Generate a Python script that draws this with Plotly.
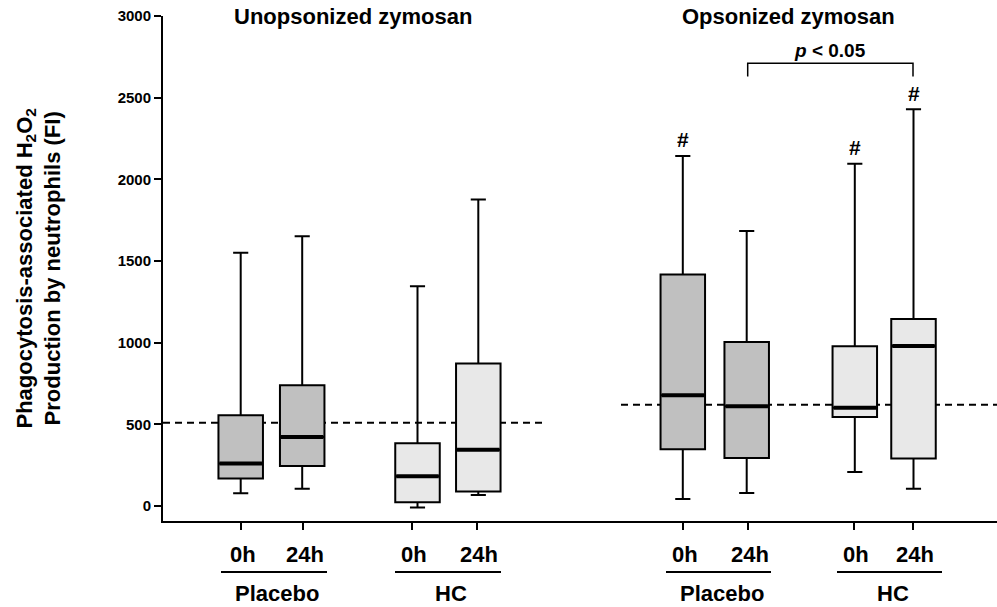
import plotly.graph_objects as go

# Box-plot summaries (fluorescence intensity, FI)
groups = ["Unop Placebo 0h", "Unop Placebo 24h", "Unop HC 0h", "Unop HC 24h",
          "Op Placebo 0h", "Op Placebo 24h", "Op HC 0h", "Op HC 24h"]
treatment = ["Placebo", "Placebo", "HC", "HC", "Placebo", "Placebo", "HC", "HC"]
time_labels = ["0h", "24h", "0h", "24h", "0h", "24h", "0h", "24h"]
lower_whisker = [78, 106, -10, 67, 43, 80, 208, 106]
q1_values = [168, 245, 23, 88, 347, 294, 545, 290]
median_values = [260, 423, 182, 345, 678, 610, 602, 980]
q3_values = [555, 739, 384, 872, 1417, 1004, 978, 1145]
upper_whisker = [1551, 1651, 1345, 1877, 2143, 1684, 2096, 2429]
significant_vs_unop = [False, False, False, False, True, False, True, True]

# Reference (dashed) levels for each stimulus
reference_levels = [510, 620]
panel_titles = ["Unopsonized zymosan", "Opsonized zymosan"]
y_ticks = [0, 500, 1000, 1500, 2000, 2500, 3000]

# Layout positions on the x axis
box_pos = [7.77, 13.92, 25.45, 31.53, 51.98, 58.37, 69.18, 75.05]
tick_pos = [7.8, 13.97, 24.93, 31.37, 52.03, 58.47, 69.1, 75.0]
box_w = 4.45
fills = {"Placebo": "#c0c0c0", "HC": "#e8e8e8"}

FONT = "Liberation Sans, Arial, Helvetica, sans-serif"


def bold(size):
    return dict(family=FONT, size=size, color="black", weight="bold")


fig = go.Figure()

for i, name in enumerate(groups):
    fig.add_trace(go.Box(
        name=name,
        x=[box_pos[i]],
        q1=[q1_values[i]],
        median=[median_values[i]],
        q3=[q3_values[i]],
        lowerfence=[lower_whisker[i]],
        upperfence=[upper_whisker[i]],
        width=box_w,
        whiskerwidth=0.34,
        fillcolor=fills[treatment[i]],
        line=dict(color="black", width=2),
        boxpoints=False,
        showlegend=False,
        hoverinfo="skip",
    ))

# Heavier median bars drawn over the boxes
mx, my = [], []
for c, m in zip(box_pos, median_values):
    mx += [c - box_w / 2 + 0.1, c + box_w / 2 - 0.1, None]
    my += [m, m, None]
fig.add_trace(go.Scatter(x=mx, y=my, mode="lines",
                         line=dict(color="black", width=4),
                         showlegend=False, hoverinfo="skip"))

shapes = []
# Dashed reference lines behind the boxes
ref_spans = [(0, 38.2), (45.8, 83.4)]
for lvl, (a, b) in zip(reference_levels, ref_spans):
    shapes.append(dict(type="line", xref="x", yref="y", x0=a, x1=b, y0=lvl, y1=lvl,
                       line=dict(color="black", width=2, dash="7px,5px"), layer="below"))

# Significance bracket between opsonized Placebo 24h and HC 24h
br_top, br_foot = 2710, 2630
shapes.append(dict(type="path", xref="x", yref="y",
                   path=f"M {tick_pos[5]},{br_foot} L {tick_pos[5]},{br_top} "
                        f"L {tick_pos[7]},{br_top} L {tick_pos[7]},{br_foot}",
                   line=dict(color="black", width=1.5)))

# Underlines grouping the time points under each treatment
plot_h = 607 - 16 - 86
under_y = -51 / plot_h
under_spans = [(5.8, 16.4), (23.2, 33.8), (50.3, 60.8), (67.4, 77.9)]
for a, b in under_spans:
    shapes.append(dict(type="line", xref="x", yref="paper", x0=a, x1=b,
                       y0=under_y, y1=under_y, line=dict(color="black", width=2)))

annotations = []
# Panel titles
for t, xc in zip(panel_titles, [18.95, 62.5]):
    annotations.append(dict(text=t, x=xc, y=1, xref="x", yref="paper",
                            xanchor="center", yanchor="middle", showarrow=False,
                            font=bold(22)))

# Time-point labels and treatment labels
for xt, lab in zip(tick_pos, time_labels):
    annotations.append(dict(text=lab, x=xt + 0.2, y=0, xref="x", yref="paper",
                            xanchor="center", yanchor="middle", yshift=-33,
                            showarrow=False, font=bold(22)))
for (a, b), lab in zip(under_spans, ["Placebo", "HC", "Placebo", "HC"]):
    annotations.append(dict(text=lab, x=(a + b) / 2 + 0.3, y=0, xref="x", yref="paper",
                            xanchor="center", yanchor="middle", yshift=-72,
                            showarrow=False, font=bold(22)))

# '#' markers above the whiskers
for i, sig in enumerate(significant_vs_unop):
    if sig:
        annotations.append(dict(text="#", x=box_pos[i], y=upper_whisker[i],
                                xref="x", yref="y", xanchor="center", yanchor="middle",
                                yshift=16, showarrow=False, font=bold(21)))

annotations.append(dict(text="<i>p</i> &lt; 0.05", x=(tick_pos[5] + tick_pos[7]) / 2,
                        y=br_top, xref="x", yref="y", xanchor="center",
                        yanchor="middle", yshift=13, showarrow=False, font=bold(19)))

# Y-axis title
annotations.append(dict(
    text="Phagocytosis-associated H<sub>2</sub>O<sub>2</sub><br>Production by neutrophils (FI)",
    x=0, y=0.5, xref="paper", yref="paper", xshift=-125, xanchor="center",
    yanchor="middle", textangle=-90, showarrow=False, font=bold(22)))

fig.update_layout(
    width=997, height=607,
    margin=dict(l=163, r=0, t=16, b=86, autoexpand=False),
    paper_bgcolor="white", plot_bgcolor="white",
    shapes=shapes, annotations=annotations,
    xaxis=dict(range=[0, 83.4], showgrid=False, zeroline=False, showline=True,
               linecolor="black", linewidth=2, ticks="outside", ticklen=7,
               tickwidth=2, tickcolor="black", tickvals=tick_pos,
               showticklabels=False, automargin=False),
    yaxis=dict(range=[-92, 3000], showgrid=False, zeroline=False, showline=True,
               linecolor="black", linewidth=2, ticks="outside", ticklen=7,
               tickwidth=2, tickcolor="black", tickvals=y_ticks,
               tickfont=bold(15), automargin=False),
    showlegend=False,
)

fig.write_html("out.html")
